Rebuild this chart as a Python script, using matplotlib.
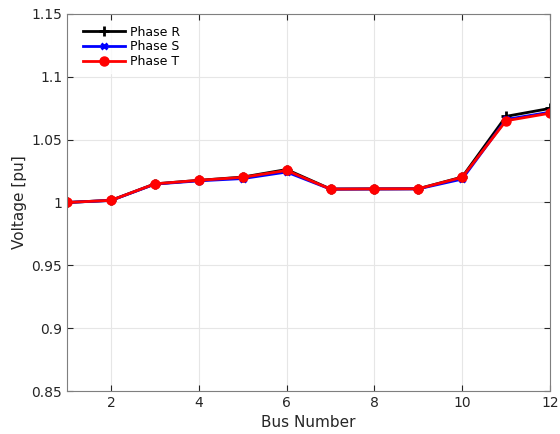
import matplotlib.pyplot as plt
import numpy as np

bus = np.arange(1, 13)
phase_r = [1.0, 1.0017, 1.0148, 1.0176, 1.0202, 1.0262, 1.0107, 1.0108, 1.0109, 1.0202, 1.0685, 1.0748]
phase_s = [1.0, 1.0016, 1.0146, 1.0172, 1.0190, 1.0242, 1.0106, 1.0107, 1.0108, 1.0186, 1.0660, 1.0718]
phase_t = [1.0, 1.0017, 1.0148, 1.0176, 1.0200, 1.0255, 1.0106, 1.0108, 1.0109, 1.0200, 1.0650, 1.0710]

fig = plt.figure(figsize=(5.6, 4.34), dpi=100)
ax = fig.add_axes([0.12, 0.099, 0.862, 0.869])

ax.plot(bus, phase_r, color='black', marker='+', markersize=7, mew=2, lw=2, label='Phase R')
ax.plot(bus, phase_s, color='blue', marker='x', markersize=5, mew=2, lw=2, label='Phase S')
ax.plot(bus, phase_t, color='red', marker='o', markersize=6.5, lw=2, label='Phase T')

ax.set_xlim(1, 12)
ax.set_ylim(0.85, 1.15)
ax.set_xticks([2, 4, 6, 8, 10, 12])
ax.set_yticks(np.arange(0.85, 1.151, 0.05))
ax.set_yticklabels(['0.85', '0.9', '0.95', '1', '1.05', '1.1', '1.15'])
ax.grid(True, color='#e6e6e6', lw=0.8)
ax.set_axisbelow(True)
ax.tick_params(direction='in', labelsize=10, colors='#262626', top=True, right=True, length=4)
for s in ax.spines.values():
    s.set_color('#7f7f7f')
ax.set_xlabel('Bus Number', fontsize=11, color='#262626', labelpad=4)
ax.set_ylabel('Voltage [pu]', fontsize=11, color='#262626', labelpad=3)

leg = ax.legend(loc='upper left', bbox_to_anchor=(0.0, 1.012), fontsize=9, frameon=True,
                fancybox=False, edgecolor='white', handlelength=3.3, borderpad=0.4,
                labelspacing=0.14, handletextpad=0.4, borderaxespad=0.9)

fig.savefig('out.png', dpi=100)
